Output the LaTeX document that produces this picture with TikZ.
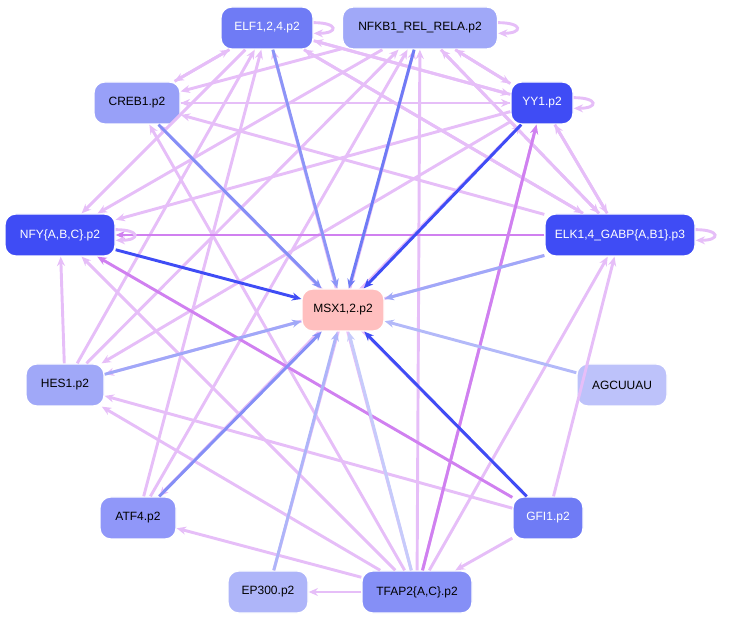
\documentclass[tikz,border=0pt]{standalone}
\usepackage{fontspec}
\setmainfont{Liberation Sans}
\usetikzlibrary{arrows.meta}
\definecolor{dk}{HTML}{3F4CF5}
\definecolor{md}{HTML}{6F7BF5}
\definecolor{lb}{HTML}{A0A8F8}
\definecolor{pk}{HTML}{E6BEF8}
\definecolor{pd}{HTML}{D080F0}
\tikzset{
 n/.style={draw=white,line width=1pt,rounded corners=8pt,minimum height=42pt*0.75,inner xsep=4pt,font=\fontsize{9}{10}\selectfont,text=white},
 nb/.style={n,text=black},
 e/.style={-{Stealth[length=7pt,width=6pt]},line width=2.2pt,draw=pk},
 ed/.style={e,draw=pd},
 b/.style={-{Stealth[length=7pt,width=6pt]},line width=2.2pt}
}
\begin{document}
\begin{tikzpicture}[x=0.75pt,y=-0.75pt]
\useasboundingbox (0,0) rectangle (736,623);
\node[n,fill=md,minimum width=92*0.75pt] (elf) at (267,28) {ELF1,2,4.p2};
\node[nb,fill=lb,minimum width=155*0.75pt] (nfkb) at (420,28) {NFKB1\_REL\_RELA.p2};
\node[nb,fill=lb!95!blue,minimum width=86*0.75pt] (creb) at (137,103) {CREB1.p2};
\node[n,fill=dk,minimum width=62*0.75pt] (yy1) at (542,103) {YY1.p2};
\node[n,fill=dk,minimum width=110*0.75pt] (nfy) at (60,235) {NFY\{A,B,C\}.p2};
\node[n,fill=dk,minimum width=150*0.75pt] (elk) at (620,235) {ELK1,4\_GABP\{A,B1\}.p3};
\node[nb,fill=lb,minimum width=78*0.75pt] (hes) at (65,385) {HES1.p2};
\node[nb,fill=lb!70!white,minimum width=90*0.75pt] (agc) at (622,385) {AGCUUAU};
\node[nb,fill=lb!90!blue,minimum width=76*0.75pt] (atf) at (138,518) {ATF4.p2};
\node[n,fill=md,minimum width=70*0.75pt] (gfi) at (548,518) {GFI1.p2};
\node[nb,fill=lb!85!white,minimum width=80*0.75pt] (ep) at (268,592) {EP300.p2};
\node[nb,fill=md!85!white,minimum width=110*0.75pt] (tf) at (417,592) {TFAP2\{A,C\}.p2};
% pink edges
\foreach \s/\t in {tf/elf,tf/nfkb,tf/creb,tf/yy1,tf/elk,tf/nfy,tf/hes,tf/atf,tf/ep,
 gfi/hes,gfi/tf,gfi/elk,gfi/creb,
 yy1/creb,yy1/nfy,yy1/hes,yy1/elf,yy1/nfkb,yy1/elk,yy1/atf,
 elk/creb,elk/elf,elk/nfkb,elk/yy1,elk/hes,
 nfkb/creb,nfkb/yy1,nfkb/elk,nfkb/nfy,
 elf/yy1,elf/elk,elf/creb,elf/nfy,
 creb/elf,creb/yy1,
 hes/nfy,hes/elf,hes/nfkb,
 atf/elf,atf/nfkb,atf/yy1,ep/nfkb}
 \draw[e] (\s) -- (\t);
\draw[ed] (gfi) -- (nfy);
\draw[ed] (elk) -- (nfy);
\draw[ed] (tf) -- (yy1);
% self loops
\foreach \s in {elf,nfkb,yy1,nfy,elk}
 \draw[e] ([yshift=4pt]\s.east) to[out=0,in=0,looseness=6] ([yshift=-4pt]\s.east);
\node[n,fill=red!25,text=black,minimum width=82*0.75pt] (msx) at (343,310) {MSX1,2.p2};
% edges to MSX
\draw[b,draw=md!80!white] (elf) -- (msx);
\draw[b,draw=md] (nfkb) -- (msx);
\draw[b,draw=md!85!white] (creb) -- (msx);
\draw[b,draw=dk] (yy1) -- (msx);
\draw[b,draw=dk] (nfy) -- (msx);
\draw[b,draw=lb] (elk) -- (msx);
\draw[b,draw=lb] (hes) -- (msx);
\draw[b,draw=lb!80!white] (agc) -- (msx);
\draw[b,draw=md!85!white] (atf) -- (msx);
\draw[b,draw=lb!85!white] (ep) -- (msx);
\draw[b,draw=lb!60!white] (tf) -- (msx);
\draw[b,draw=dk] (gfi) -- (msx);
\end{tikzpicture}
\end{document}
